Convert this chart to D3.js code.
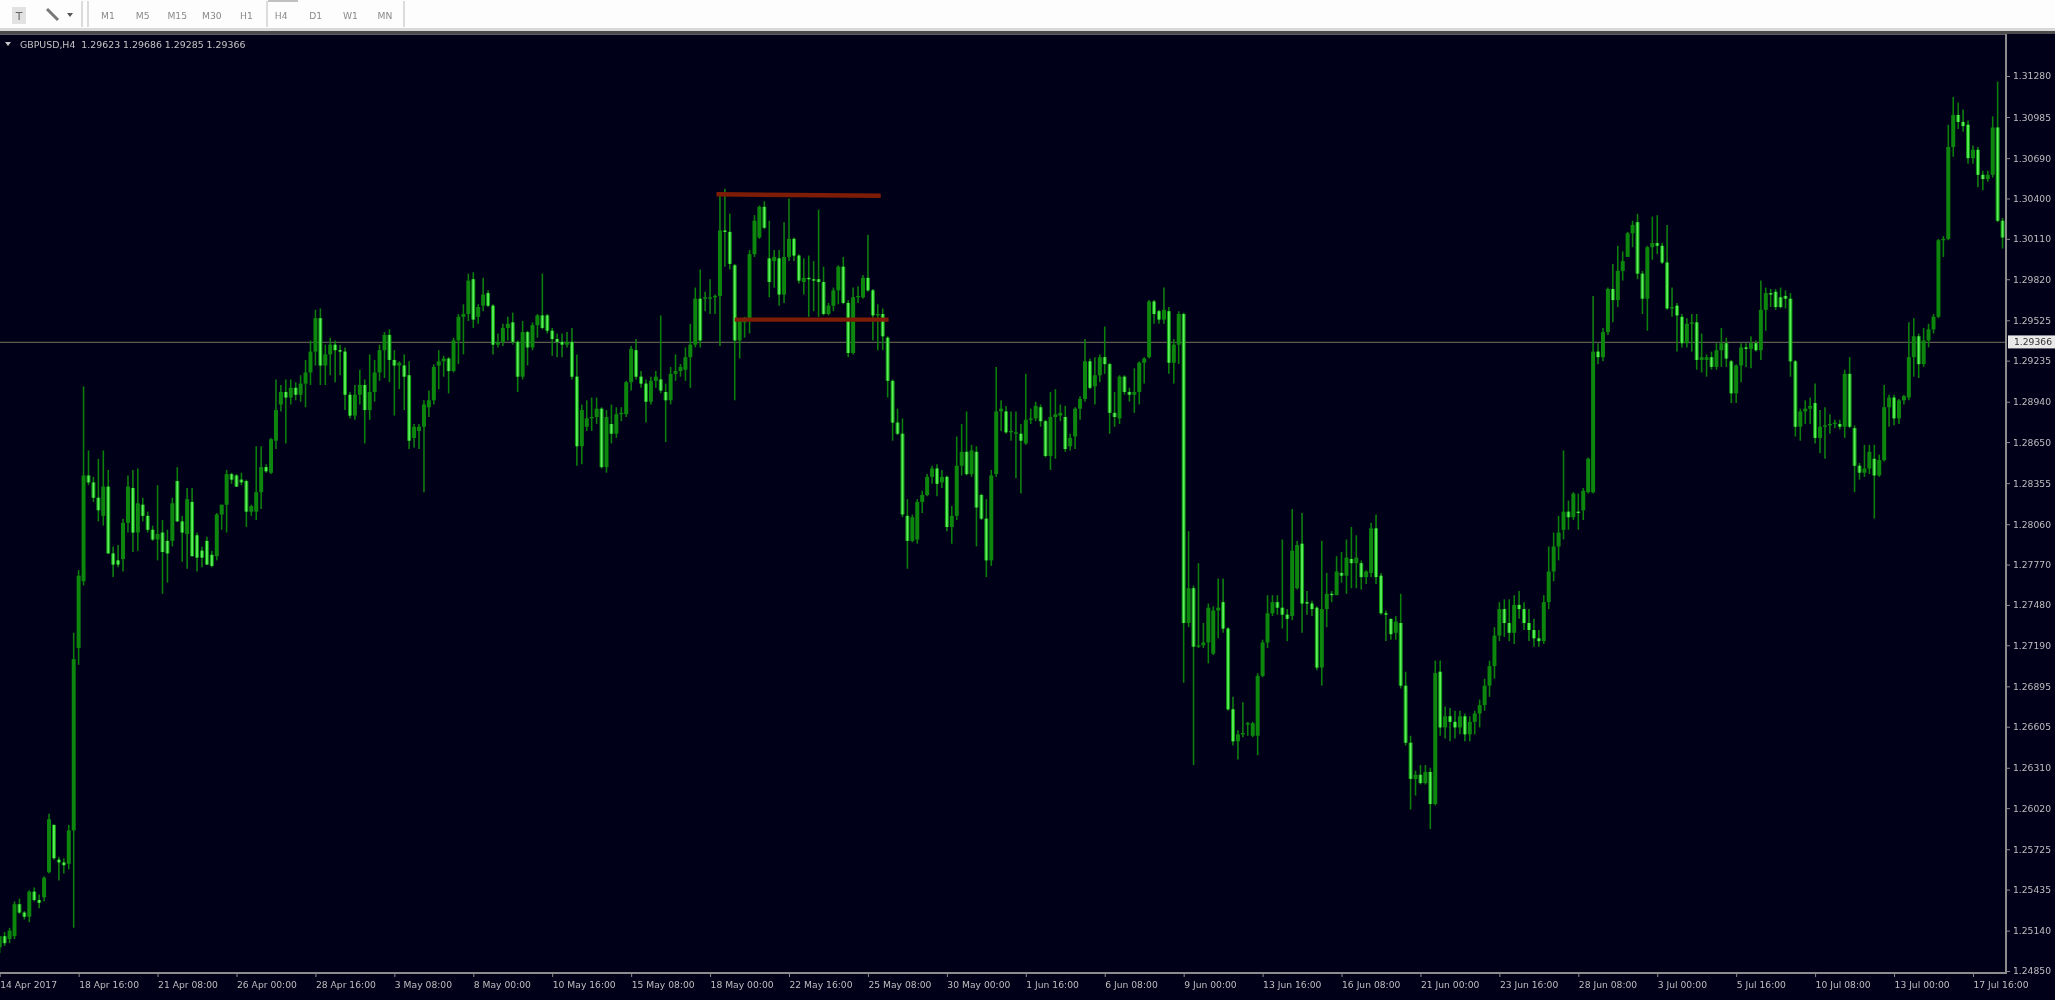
<!DOCTYPE html>
<html>
<head>
<meta charset="utf-8">
<style>
html,body{margin:0;padding:0;background:#000019;overflow:hidden}
svg{display:block}
</style>
<script src="https://cdn.jsdelivr.net/npm/d3@7/dist/d3.min.js"></script>
</head>
<body>
<svg id="chart" width="2055" height="1000"></svg>
<script>
// Prices in 1/10000 units (12502 = 1.2502). GBPUSD H4, one value per bar.
const opens = [
12502,12510,12508,12510,12533,12527,12524,12542,12536,12538,
12556,12590,12565,12563,12562,12586,12717,12765,12841,12836,
12825,12812,12833,12785,12780,12781,12807,12832,12800,12820,
12812,12802,12795,12800,12794,12794,12837,12808,12799,12822,
12798,12787,12794,12784,12783,12813,12820,12842,12841,12838,
12837,12815,12815,12829,12847,12843,12866,12892,12901,12897,
12904,12899,12907,12915,12930,12954,12920,12928,12935,12931,
12930,12899,12884,12899,12906,12888,12901,12915,12931,12942,
12924,12920,12920,12913,12868,12873,12876,12890,12895,12920,
12923,12925,12916,12938,12955,12957,12982,12955,12963,12972,
12963,12935,12937,12947,12951,12937,12912,12944,12933,12949,
12956,12956,12945,12939,12937,12935,12937,12912,12862,12876,
12882,12883,12889,12847,12878,12871,12885,12885,12908,12931,
12912,12907,12894,12909,12910,12901,12895,12914,12916,12917,
12926,12935,12968,12969,12969,12969,12970,13017,13016,12992,
12938,12951,12953,13000,13012,13034,12997,12995,12997,12971,
12998,13011,12999,12980,12983,12982,12982,12980,12957,12963,
12974,12991,12965,12929,12969,12969,12983,12974,12956,12957,
12940,12909,12879,12871,12812,12794,12795,12822,12827,12840,
12846,12836,12840,12804,12812,12848,12858,12842,12858,12827,
12810,12780,12842,12887,12887,12872,12871,12871,12864,12881,
12882,12890,12880,12855,12883,12884,12883,12862,12869,12889,
12896,12923,12905,12913,12926,12921,12886,12882,12912,12901,
12899,12901,12922,12926,12966,12959,12953,12959,12922,12935,
12957,12735,12760,12718,12719,12721,12713,12744,12750,12731,
12673,12650,12655,12662,12654,12654,12697,12721,12742,12750,
12746,12741,12740,12760,12792,12750,12749,12746,12703,12745,
12756,12755,12771,12769,12781,12778,12778,12768,12771,12803,
12769,12742,12738,12728,12735,12690,12649,12623,12626,12620,
12628,12605,12700,12660,12668,12664,12660,12668,12655,12664,
12670,12676,12690,12704,12726,12745,12735,12728,12748,12745,
12735,12730,12724,12722,12750,12772,12790,12802,12815,12811,
12815,12816,12829,12829,12930,12926,12944,12975,12967,12988,
12998,13015,13023,12986,12968,13005,13008,13006,12994,12961,
12963,12955,12936,12950,12951,12924,12924,12926,12919,12931,
12936,12923,12900,12920,12933,12932,12936,12931,12960,12972,
12973,12969,12970,12968,12923,12876,12887,12889,12893,12868,
12876,12877,12878,12878,12876,12914,12875,12848,12843,12846,
12853,12841,12852,12890,12897,12882,12895,12897,12926,12941,
12921,12938,12946,12955,13010,13011,13077,13100,13095,13093,
13069,13075,13057,13054,13057,13091,13024,13012];
const highs = [
12510,12513,12516,12535,12537,12528,12543,12545,12540,12553,
12598,12590,12567,12566,12590,12728,12773,12905,12859,12840,
12853,12859,12845,12790,12791,12810,12841,12845,12846,12825,
12815,12805,12834,12809,12802,12825,12847,12812,12832,12832,
12800,12790,12797,12787,12814,12820,12845,12843,12842,12843,
12838,12820,12862,12862,12849,12868,12910,12906,12910,12910,
12908,12913,12924,12938,12960,12961,12935,12940,12938,12935,
12933,12901,12906,12917,12910,12928,12924,12935,12944,12946,
12931,12923,12928,12923,12878,12878,12895,12902,12921,12931,
12927,12926,12940,12957,12964,12986,12987,12964,12983,12974,
12964,12943,12950,12955,12958,12938,12952,12945,12951,12957,
12986,12957,12947,12943,12943,12944,12947,12928,12892,12895,
12897,12897,12890,12888,12892,12890,12890,12909,12934,12939,
12916,12910,12912,12916,12956,12907,12919,12928,12921,12933,
12950,12976,12989,12973,12982,12971,13042,13047,13029,12993,
12953,12955,13003,13028,13035,13038,13024,13003,13003,13023,
13040,13012,13000,12997,12999,12995,13032,12991,12965,12976,
12992,12998,12967,12976,12977,12985,13014,12975,12964,12961,
12941,12910,12889,12882,12824,12813,12824,12830,12842,12848,
12849,12845,12841,12819,12869,12878,12887,12863,12862,12828,
12824,12845,12919,12895,12891,12887,12887,12878,12914,12889,
12894,12892,12881,12901,12903,12892,12891,12871,12890,12898,
12939,12925,12926,12928,12948,12922,12901,12913,12913,12904,
12918,12923,12926,12967,12967,12960,12976,12962,12939,12959,
12958,12801,12762,12778,12735,12749,12747,12767,12767,12732,
12682,12658,12678,12664,12664,12699,12723,12755,12755,12755,
12795,12745,12817,12794,12814,12758,12751,12747,12794,12771,
12758,12783,12786,12795,12804,12798,12780,12773,12807,12813,
12771,12744,12738,12740,12756,12700,12654,12629,12633,12633,
12631,12708,12708,12675,12674,12672,12672,12670,12668,12672,
12680,12695,12708,12732,12750,12752,12752,12755,12758,12750,
12745,12738,12730,12755,12790,12800,12812,12859,12823,12829,
12828,12832,12854,12970,12936,12947,12976,12993,13006,13002,
13016,13024,13029,12988,13006,13027,13028,13008,13021,12976,
12965,12957,12954,12957,12957,12943,12928,12930,12936,12947,
12940,12924,12921,12936,12936,12941,12938,12981,12976,12975,
12975,12976,12974,12972,12924,12889,12895,12897,12907,12888,
12890,12885,12881,12881,12917,12926,12877,12850,12863,12863,
12863,12856,12906,12899,12899,12896,12899,12951,12954,12943,
12947,12950,12957,13011,13013,13093,13113,13109,13104,13096,
13078,13077,13060,13060,13099,13124,13026,13060];
const lows = [
12498,12503,12505,12508,12526,12522,12520,12535,12530,12535,
12555,12565,12550,12555,12558,12516,12705,12762,12834,12822,
12808,12805,12785,12768,12775,12772,12800,12786,12787,12808,
12800,12794,12780,12756,12764,12790,12808,12779,12774,12783,
12772,12775,12777,12775,12780,12802,12800,12835,12833,12834,
12804,12812,12809,12817,12843,12842,12860,12887,12864,12892,
12895,12894,12890,12906,12920,12906,12906,12913,12908,12913,
12888,12882,12881,12892,12864,12881,12894,12909,12911,12908,
12884,12903,12888,12860,12861,12860,12829,12883,12892,12903,
12912,12900,12915,12921,12928,12952,12947,12950,12959,12962,
12928,12933,12934,12938,12935,12901,12910,12920,12931,12940,
12946,12943,12927,12926,12926,12933,12910,12848,12849,12873,
12873,12878,12846,12843,12864,12868,12880,12883,12902,12910,
12904,12879,12892,12904,12900,12865,12892,12909,12912,12909,
12904,12933,12933,12959,12957,12957,12934,12991,12989,12895,
12925,12940,12943,12998,13011,13018,12969,12976,12963,12965,
12995,12995,12979,12971,12955,12959,12955,12956,12956,12959,
12964,12964,12926,12928,12965,12968,12973,12938,12931,12931,
12897,12866,12870,12811,12774,12793,12792,12814,12826,12835,
12826,12832,12801,12792,12809,12841,12841,12840,12790,12809,
12768,12776,12840,12873,12871,12866,12839,12828,12863,12878,
12880,12876,12854,12845,12853,12880,12858,12859,12860,12881,
12894,12903,12892,12908,12914,12871,12876,12878,12899,12894,
12886,12892,12907,12925,12950,12950,12950,12914,12907,12921,
12692,12732,12633,12717,12717,12706,12712,12724,12728,12672,
12647,12637,12653,12654,12653,12640,12696,12717,12740,12741,
12731,12722,12737,12759,12728,12741,12740,12701,12690,12732,
12750,12755,12764,12756,12760,12760,12759,12763,12768,12763,
12741,12722,12723,12723,12688,12647,12601,12611,12619,12619,
12587,12604,12654,12652,12650,12652,12655,12650,12650,12655,
12660,12672,12682,12695,12722,12725,12722,12720,12738,12730,
12722,12718,12718,12720,12745,12765,12780,12795,12802,12809,
12802,12809,12828,12828,12921,12923,12942,12951,12962,12981,
12998,13005,12982,12957,12945,12996,13000,12993,12960,12955,
12930,12933,12933,12930,12917,12915,12912,12917,12917,12919,
12919,12893,12893,12908,12919,12918,12930,12924,12945,12962,
12960,12961,12961,12912,12869,12866,12878,12878,12864,12857,
12853,12871,12875,12874,12868,12875,12829,12838,12840,12842,
12810,12840,12851,12876,12877,12878,12892,12895,12912,12911,
12919,12933,12943,12954,12998,13010,13070,13090,13088,13065,
13065,13048,13046,13052,13055,13023,13004,13010];
const closes = [
12510,12505,12514,12533,12527,12524,12542,12536,12534,12552,
12594,12566,12563,12561,12586,12709,12769,12841,12836,12825,
12816,12833,12785,12777,12777,12807,12833,12800,12821,12812,
12802,12795,12799,12786,12785,12821,12808,12800,12824,12783,
12782,12782,12777,12776,12813,12820,12842,12838,12833,12836,
12815,12819,12829,12847,12844,12867,12888,12901,12897,12904,
12899,12907,12915,12930,12954,12920,12928,12935,12931,12930,
12899,12884,12899,12906,12888,12901,12915,12931,12942,12924,
12920,12922,12912,12866,12876,12876,12892,12895,12919,12923,
12925,12916,12938,12955,12957,12981,12953,12962,12971,12963,
12935,12937,12947,12950,12937,12912,12944,12933,12949,12956,
12947,12945,12939,12937,12935,12937,12912,12862,12888,12882,
12883,12889,12847,12883,12871,12885,12886,12908,12932,12912,
12907,12894,12909,12912,12902,12895,12914,12916,12919,12926,
12935,12968,12938,12969,12969,12970,13017,13016,12993,12938,
12952,12953,13000,13024,13034,13019,12980,12998,12971,12998,
13011,12999,12981,12983,12982,12981,12980,12957,12963,12974,
12991,12965,12929,12969,12970,12983,12974,12956,12957,12941,
12909,12879,12871,12813,12794,12811,12822,12827,12840,12846,
12835,12840,12804,12812,12848,12858,12842,12859,12818,12810,
12780,12841,12887,12889,12872,12873,12872,12866,12881,12882,
12891,12880,12855,12883,12885,12886,12860,12868,12889,12896,
12923,12904,12913,12926,12921,12886,12883,12912,12901,12899,
12901,12922,12925,12966,12957,12953,12960,12922,12935,12957,
12735,12760,12718,12719,12721,12746,12744,12746,12731,12673,
12650,12655,12656,12663,12663,12697,12721,12742,12750,12746,
12741,12738,12787,12791,12749,12749,12745,12703,12745,12756,
12755,12772,12769,12782,12778,12782,12768,12772,12803,12768,
12742,12741,12727,12736,12690,12649,12623,12626,12620,12628,
12605,12699,12660,12668,12664,12660,12668,12655,12664,12670,
12676,12690,12704,12726,12745,12735,12728,12748,12745,12735,
12730,12724,12722,12750,12772,12790,12800,12815,12811,12828,
12814,12830,12853,12930,12926,12944,12975,12967,12988,12995,
13015,13021,12986,12968,13005,13008,13006,12994,12961,12962,
12956,12936,12950,12951,12924,12926,12926,12919,12931,12936,
12925,12900,12920,12933,12932,12936,12931,12960,12972,12971,
12962,12962,12968,12923,12876,12887,12889,12891,12868,12876,
12877,12878,12879,12876,12914,12876,12848,12843,12846,12858,
12841,12852,12890,12897,12882,12895,12898,12926,12941,12921,
12938,12946,12955,13010,13011,13077,13100,13095,13092,13069,
13075,13057,13054,13057,13091,13024,13012,13046];

const priceTickLabels = ["1.31280","1.30985","1.30690","1.30400","1.30110","1.29820","1.29525","1.29235","1.28940","1.28650","1.28355","1.28060","1.27770","1.27480","1.27190","1.26895","1.26605","1.26310","1.26020","1.25725","1.25435","1.25140","1.24850"];
const timeTickBars = [0,16,32,48,64,80,96,112,128,144,160,176,192,208,224,240,256,272,288,304,320,336,352,368,384,400];
const timeTickLabels = ["14 Apr 2017","18 Apr 16:00","21 Apr 08:00","26 Apr 00:00","28 Apr 16:00","3 May 08:00","8 May 00:00","10 May 16:00","15 May 08:00","18 May 00:00","22 May 16:00","25 May 08:00","30 May 00:00","1 Jun 16:00","6 Jun 08:00","9 Jun 00:00","13 Jun 16:00","16 Jun 08:00","21 Jun 00:00","23 Jun 16:00","28 Jun 08:00","3 Jul 00:00","5 Jul 16:00","10 Jul 08:00","13 Jul 00:00","17 Jul 16:00"];
const gridBars = [6,36,66,96,126,156,186,216,246,276,306,336,366,396];
const bidPrice = 12936.6;
const bidLabel = "1.29366";
const titleText = "GBPUSD,H4  1.29623 1.29686 1.29285 1.29366";
const periods = ["M1","M5","M15","M30","H1","H4","D1","W1","MN"];
const drawnLevels = [
  {from:145.3, to:178.6, a:13043, b:13042},
  {from:149,   to:180.2, a:12953, b:12953}
];

const W = 2055, H = 1000;
const svg = d3.select("#chart");
svg.attr("viewBox",`0 0 ${W} ${H}`);
const defs = svg.append("defs");
defs.append("filter").attr("id","soft").attr("x","-2%").attr("y","-2%").attr("width","104%").attr("height","104%")
  .append("feGaussianBlur").attr("stdDeviation",0.6);
defs.append("filter").attr("id","softText").attr("x","-5%").attr("y","-20%").attr("width","110%").attr("height","140%")
  .append("feGaussianBlur").attr("stdDeviation",0.55);
const plotRight = 2006, plotTop = 34, plotBottom = 973;
defs.append("clipPath").attr("id","plot").append("rect")
  .attr("x",0).attr("y",plotTop).attr("width",plotRight).attr("height",plotBottom-plotTop);

const x = d3.scaleLinear().domain([0,407]).range([-0.3,2007.5]);
const y = d3.scaleLinear().domain([12485,13128]).range([971,76]);
const barIdx = d3.range(opens.length);

svg.append("rect").attr("width",W).attr("height",H).attr("fill","#000019");

// grid
const plot = svg.append("g").attr("clip-path","url(#plot)");
plot.append("g").selectAll("line").data(gridBars).join("line")
  .attr("x1",d=>x(d)).attr("x2",d=>x(d)).attr("y1",plotTop).attr("y2",plotBottom)
  .attr("stroke","#9a9a9a").attr("stroke-width",1.4).attr("stroke-dasharray","3 4.5").attr("filter","url(#soft)");
plot.append("line").attr("x1",0).attr("x2",plotRight).attr("y1",y(bidPrice)).attr("y2",y(bidPrice))
  .attr("stroke","#5c5c4e").attr("stroke-width",1.4);

// candles
const candles = plot.append("g").attr("filter","url(#soft)");
candles.selectAll("line.wick").data(barIdx).join("line").attr("class","wick")
  .attr("x1",i=>x(i)).attr("x2",i=>x(i)).attr("y1",i=>y(highs[i])).attr("y2",i=>y(lows[i]))
  .attr("stroke","#0b7d0b").attr("stroke-width",1.6);
candles.selectAll("rect.body").data(barIdx).join("rect").attr("class","body")
  .attr("x",i=>x(i)-2).attr("width",4)
  .attr("y",i=>y(Math.max(opens[i],closes[i])))
  .attr("height",i=>Math.max(1.4,Math.abs(y(opens[i])-y(closes[i]))))
  .attr("fill",i=>closes[i]>=opens[i]?"#0c860c":"#0f960f");
candles.selectAll("rect.core").data(barIdx.filter(i=>closes[i]<opens[i])).join("rect").attr("class","core")
  .attr("x",i=>x(i)-0.9).attr("width",1.8)
  .attr("y",i=>y(opens[i]))
  .attr("height",i=>Math.abs(y(opens[i])-y(closes[i])))
  .attr("fill","#5cf05c");

// drawn levels
plot.append("g").selectAll("line").data(drawnLevels).join("line")
  .attr("x1",d=>x(d.from)).attr("x2",d=>x(d.to)).attr("y1",d=>y(d.a)).attr("y2",d=>y(d.b))
  .attr("stroke","#7e1c06").attr("stroke-width",4.4);

// axes
const textStyle = s => s.attr("font-family","'DejaVu Sans',sans-serif").attr("font-size",9.2).attr("fill","#bdbdbd").attr("filter","url(#softText)");
const yAxis = d3.axisRight(y)
  .tickValues(priceTickLabels.map(s=>parseFloat(s)*10000))
  .tickFormat((d,i)=>priceTickLabels[i]).tickSize(4).tickPadding(3);
const gy = svg.append("g").attr("transform",`translate(${plotRight},0)`).call(yAxis);
gy.select(".domain").remove();
gy.selectAll("line").attr("stroke","#8c8c8c");
gy.selectAll("text").call(textStyle);
const xAxis = d3.axisBottom(x).tickValues(timeTickBars)
  .tickFormat((d,i)=>timeTickLabels[i]).tickSize(4).tickPadding(3);
const gx = svg.append("g").attr("transform",`translate(0,${plotBottom})`).call(xAxis);
gx.select(".domain").remove();
gx.selectAll("line").attr("stroke","#8c8c8c");
gx.selectAll("text").call(textStyle).attr("text-anchor","start").attr("dx",0).attr("dy","0.9em");

// frame
svg.append("line").attr("x1",0).attr("x2",plotRight+1).attr("y1",plotBottom).attr("y2",plotBottom).attr("stroke","#8c8c8c").attr("stroke-width",2);
svg.append("line").attr("x1",plotRight).attr("x2",plotRight).attr("y1",plotTop).attr("y2",plotBottom).attr("stroke","#8c8c8c").attr("stroke-width",2);
svg.append("line").attr("x1",0).attr("x2",plotRight).attr("y1",plotTop).attr("y2",plotTop).attr("stroke","#7a7a7a").attr("stroke-width",1.5);

// current price label
svg.append("rect").attr("x",plotRight+2).attr("y",y(bidPrice)-7).attr("width",W-plotRight-2).attr("height",13).attr("fill","#e9e9e9");
svg.append("text").attr("x",2014).attr("y",y(bidPrice)+3).attr("font-family","'DejaVu Sans',sans-serif").attr("font-size",9.2)
  .attr("fill","#333").attr("filter","url(#softText)").text(bidLabel);

// chart title
svg.append("path").attr("d","M5 42 L11 42 L8 46 Z").attr("fill","#c8c8c8").attr("filter","url(#softText)");
svg.append("text").attr("x",20).attr("y",48).attr("font-family","'DejaVu Sans',sans-serif").attr("font-size",9.4)
  .attr("fill","#c4c4c4").attr("filter","url(#softText)").attr("xml:space","preserve").style("white-space","pre").text(titleText);

// toolbar
const bar = svg.append("g");
bar.append("rect").attr("width",W).attr("height",29).attr("fill","#fdfdfd");
bar.append("rect").attr("y",28).attr("width",W).attr("height",3).attr("fill","#d8d8d8");
bar.append("rect").attr("y",31).attr("width",W).attr("height",3).attr("fill","#4c4c4c");
[81,87,266,403].forEach(px=>bar.append("rect").attr("x",px).attr("y",1).attr("width",2).attr("height",26).attr("fill","#dcdcdc"));
bar.append("rect").attr("x",268).attr("y",0).attr("width",30).attr("height",2).attr("fill","#c0c0c0");
bar.append("rect").attr("x",12).attr("y",7).attr("width",14).attr("height",17).attr("fill","#e2e2e2").attr("filter","url(#softText)");
bar.append("text").attr("x",19).attr("y",20).attr("text-anchor","middle").attr("font-family","'DejaVu Sans',sans-serif").attr("font-size",11).attr("fill","#666").attr("filter","url(#softText)").text("T");
bar.append("path").attr("d","M47 9 L58 20").attr("stroke","#777").attr("stroke-width",3).attr("filter","url(#softText)");
bar.append("path").attr("d","M67 13 L73 13 L70 17 Z").attr("fill","#555").attr("filter","url(#softText)");
const periodX = d3.scalePoint().domain(periods).range([108,385]);
bar.append("g").selectAll("text").data(periods).join("text")
  .attr("x",d=>periodX(d)).attr("y",19).attr("text-anchor","middle")
  .attr("font-family","'DejaVu Sans',sans-serif").attr("font-size",9.2).attr("fill","#8a8a8a").attr("filter","url(#softText)").text(d=>d);
</script>
</body>
</html>
